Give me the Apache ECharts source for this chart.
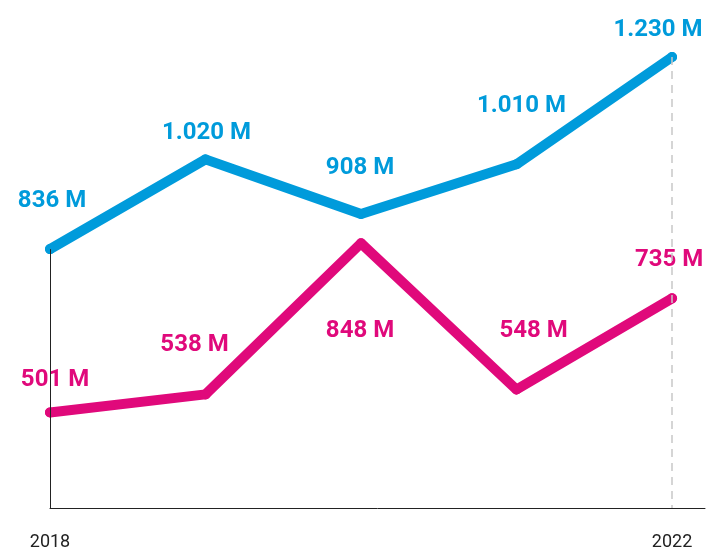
<!DOCTYPE html>
<html><head><meta charset="utf-8">
<script src="https://cdn.jsdelivr.net/npm/echarts@6/dist/echarts.min.js"></script>
<style>html,body{margin:0;padding:0;background:#fff}#c{width:706px;height:553px}</style>
</head><body><div id="c"></div>
<script>
const years = [2018, 2019, 2020, 2021, 2022];
const blueValues = [836, 1020, 908, 1010, 1230];
const pinkValues = [501, 538, 848, 548, 735];
const blueLabels = ['836 M', '1.020 M', '908 M', '1.010 M', '1.230 M'];
const pinkLabels = ['501 M', '538 M', '848 M', '548 M', '735 M'];
const tickLabels = ['2018', '2022'];

const BLUE = '#009bdb', PINK = '#e0097b';
const blueOffsets = [[2,-48],[1,-26],[-1,-46],[5,-58],[-14,-27]];
const pinkOffsets = [[5,-32],[-11,-49],[-1,88],[17,-59],[-3,-38]];
const bluePad = [0,0,0,0,0];
const pinkPad = [[9,4],0,0,0,[17,4]];

function mk(vals, labels, offs, pads, color) {
  return vals.map((v, i) => ({
    value: [years[i], v],
    label: {
      show: true, position: 'inside', offset: offs[i],
      formatter: labels[i], color: color, fontFamily: 'Roboto',
      fontWeight: 'bold', fontSize: 24,
      backgroundColor: pads[i] ? '#fff' : 'transparent',
      padding: pads[i] || 0
    }
  }));
}

const chart = echarts.init(document.getElementById('c'));
chart.setOption({
  animation: false,
  grid: { left: 50, right: 1, top: 57, bottom: 45 },
  xAxis: {
    type: 'value', min: 2018, max: 2022.212, interval: 1,
    splitLine: { show: false },
    axisTick: { show: false },
    axisLine: { show: true, lineStyle: { color: '#222', width: 1 } },
    axisLabel: {
      margin: 25, color: '#222', fontFamily: 'Roboto', fontSize: 18,
      showMaxLabel: false,
      formatter: v => tickLabels.indexOf(String(v)) >= 0 ? String(v) : ''
    }
  },
  yAxis: {
    type: 'value', min: 305, max: 1230,
    show: true, axisLine: { show: false }, axisTick: { show: false },
    axisLabel: { show: false }, splitLine: { show: false }
  },
  series: [
    {
      type: 'line', z: 1, data: [], silent: true,
      markLine: {
        symbol: 'none', silent: true, label: { show: false },
        data: [
          [{ coord: [years[0], blueValues[0]], lineStyle: { color: '#222', width: 1, type: 'solid' } },
           { coord: [years[0], 305] }],
          [{ coord: [years[4], blueValues[4]], lineStyle: { color: '#c8c8c8', width: 1.5, type: [8, 6] } },
           { coord: [years[4], 305] }]
        ]
      }
    },
    {
      type: 'line', z: 3, data: mk(blueValues, blueLabels, blueOffsets, bluePad, BLUE),
      symbol: 'circle', symbolSize: 10, showSymbol: true, itemStyle: { color: BLUE },
      lineStyle: { color: BLUE, width: 10, cap: 'round', join: 'round' }
    },
    {
      type: 'line', z: 3, data: mk(pinkValues, pinkLabels, pinkOffsets, pinkPad, PINK),
      symbol: 'circle', symbolSize: 10, showSymbol: true, itemStyle: { color: PINK },
      lineStyle: { color: PINK, width: 10, cap: 'round', join: 'round' }
    }
  ]
});
</script></body></html>
